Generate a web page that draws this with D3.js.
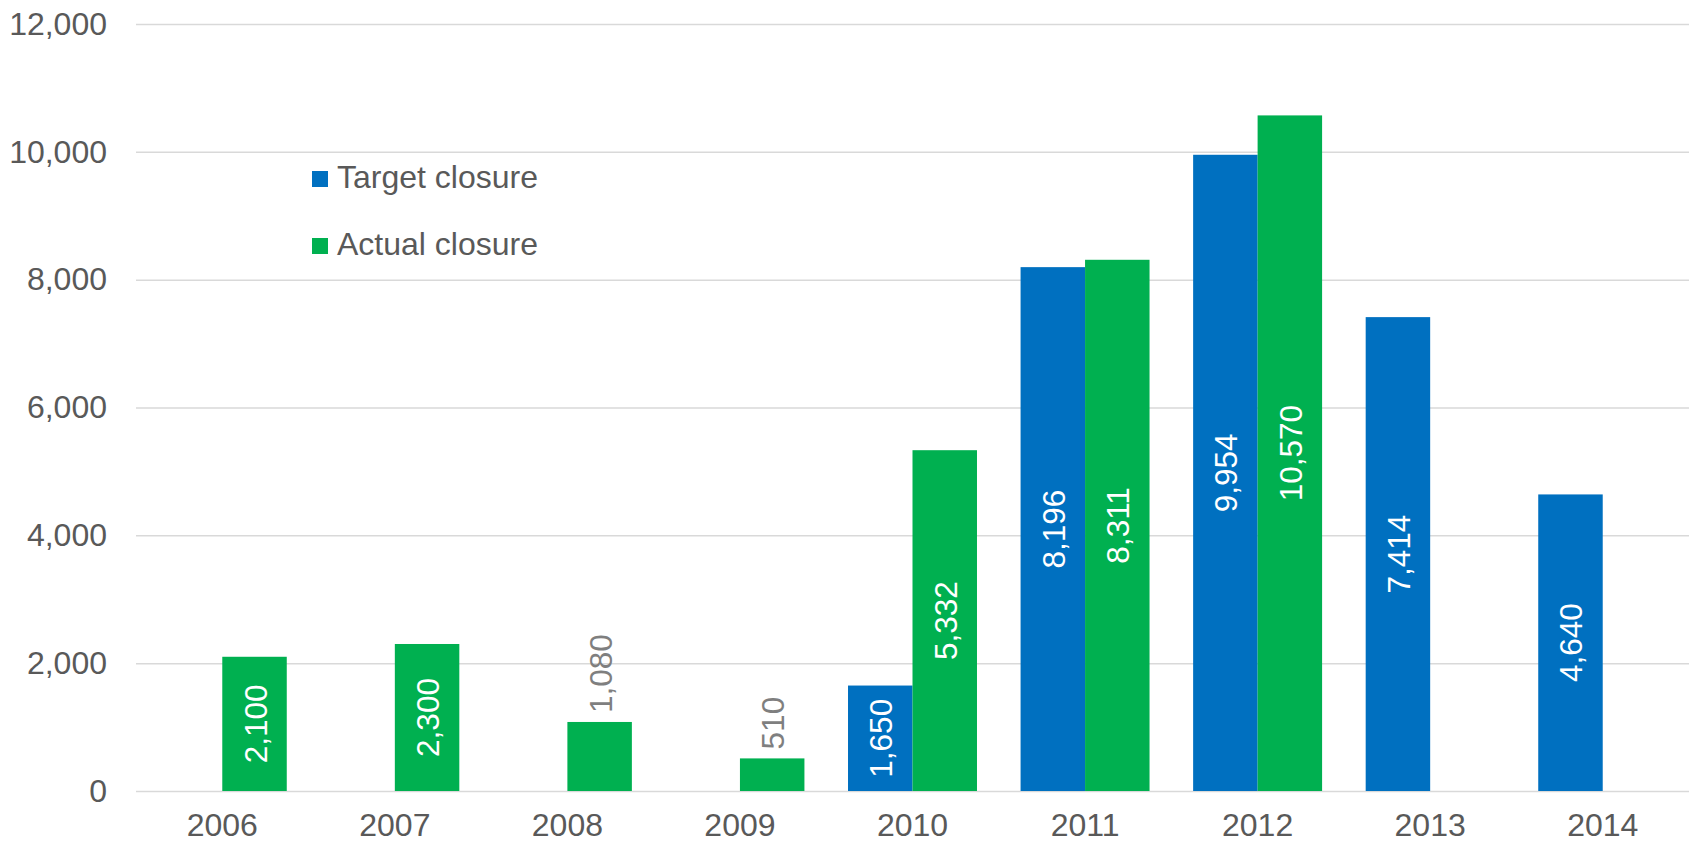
<!DOCTYPE html>
<head>
  <meta charset="utf-8">
  <script src="https://d3js.org/d3.v7.min.js"></script>
  <style>
    body {
      margin: 0;
      background: #fff;
      font-family: "Liberation Sans", Arial, sans-serif;
    }
    .axis text { fill: #595959; font-size: 32px; font-family: "Liberation Sans", Arial, sans-serif; }
    .grid line { stroke: #d9d9d9; stroke-width: 1.5; }
  </style>
</head>

<body>
  <script>
    var years = ["2006", "2007", "2008", "2009", "2010", "2011", "2012", "2013", "2014"];
    var seriesNames = ["Target closure", "Actual closure"];
    var seriesColors = ["#0070c0", "#00b050"];
    var targetClosure = [null, null, null, null, 1650, 8196, 9954, 7414, 4640];
    var actualClosure = [2100, 2300, 1080, 510, 5332, 8311, 10570, null, null];
    var yTicks = [0, 2000, 4000, 6000, 8000, 10000, 12000];

    var totalW = 1694, totalH = 842;
    var margin = { top: 24, right: 5, bottom: 51, left: 136 };
    var width = totalW - margin.left - margin.right;
    var height = totalH - margin.top - margin.bottom;

    var svg = d3.select("body").append("svg")
      .attr("width", totalW)
      .attr("height", totalH)
      .append("g")
        .attr("transform", "translate(" + margin.left + "," + margin.top + ")");

    var x0 = d3.scaleBand()
      .domain(years)
      .range([0, width])
      .padding(0);

    var x1 = d3.scaleBand()
      .domain(seriesNames)
      .range([0, x0.bandwidth()])
      .paddingInner(0)
      .paddingOuter(0.338);

    var y = d3.scaleLinear()
      .domain([0, 12000])
      .range([height, 0]);

    var fmt = d3.format(",");

    // gridlines + y labels
    var yAxis = svg.append("g")
      .attr("class", "axis grid")
      .call(d3.axisLeft(y).tickValues(yTicks).tickSize(-width).tickPadding(29).tickFormat(fmt));
    yAxis.select(".domain").remove();

    // x labels
    var xAxis = svg.append("g")
      .attr("class", "axis")
      .attr("transform", "translate(0," + height + ")")
      .call(d3.axisBottom(x0).tickSize(0).tickPadding(22));
    xAxis.select(".domain").remove();

    var rows = [];
    years.forEach(function(yr, i) {
      [targetClosure, actualClosure].forEach(function(arr, s) {
        if (arr[i] != null) rows.push({ year: yr, series: seriesNames[s], color: seriesColors[s], value: arr[i] });
      });
    });

    var bars = svg.selectAll(".bar")
      .data(rows)
      .enter()
      .append("g")
      .attr("class", "bar")
      .attr("transform", function(d) { return "translate(" + (x0(d.year) + x1(d.series)) + ",0)"; });

    bars.append("rect")
      .attr("y", function(d) { return y(d.value); })
      .attr("width", x1.bandwidth())
      .attr("height", function(d) { return height - y(d.value); })
      .style("fill", function(d) { return d.color; });

    // data labels, rotated; placed above the bar when they don't fit
    var labelSize = 31.5;
    bars.append("text")
      .text(function(d) { return fmt(d.value); })
      .style("font-size", labelSize + "px")
      .attr("dominant-baseline", "central")
      .each(function(d) {
        var len = this.getComputedTextLength();
        var barH = height - y(d.value);
        var t = d3.select(this);
        var cx = x1.bandwidth() / 2 + 1;
        if (len + 8 > barH) {
          t.attr("text-anchor", "start")
            .style("fill", "#7f7f7f")
            .attr("transform", "translate(" + cx + "," + (y(d.value) - 9) + ") rotate(-90)");
        } else {
          t.attr("text-anchor", "middle")
            .style("fill", "#fff")
            .attr("transform", "translate(" + cx + "," + (y(d.value) + barH / 2) + ") rotate(-90)");
        }
      });

    // legend
    var legend = svg.append("g")
      .attr("transform", "translate(" + (312 - margin.left) + "," + (171 - margin.top) + ")")
      .selectAll(".legend-item")
      .data(seriesNames)
      .enter()
      .append("g")
      .attr("class", "legend-item")
      .attr("transform", function(d, i) { return "translate(0," + (i * 67) + ")"; });

    legend.append("rect")
      .attr("width", 16)
      .attr("height", 16)
      .style("fill", function(d, i) { return seriesColors[i]; });

    legend.append("text")
      .text(function(d) { return d; })
      .attr("x", 25)
      .attr("y", 17)
      .style("font-size", "32px")
      .style("fill", "#595959");
  </script>
</body>
